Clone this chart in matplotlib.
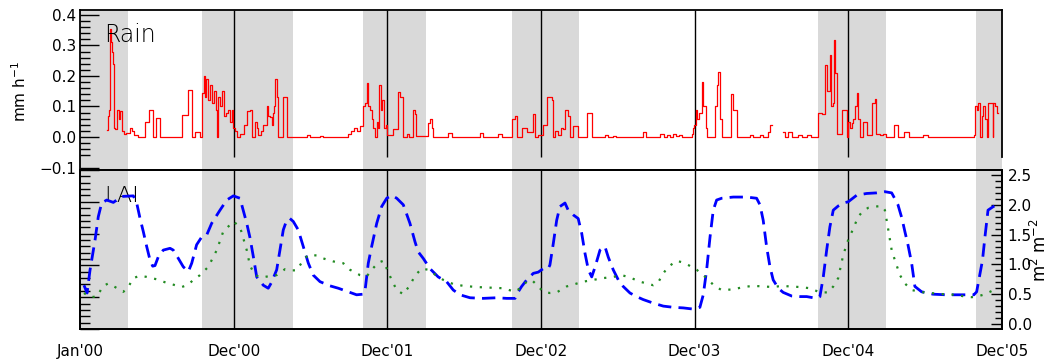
import numpy as np
import matplotlib
matplotlib.use("Agg")
import matplotlib.pyplot as plt
from matplotlib.ticker import MultipleLocator, FixedLocator

# ---- time axis (years from start of record) ----
tick_pos = [0, 1, 2, 3, 4, 5, 6]
tick_labels = ["Jan'00", "Dec'00", "Dec'01", "Dec'02", "Dec'03", "Dec'04", "Dec'05"]
season_start = [0.0, 0.794, 1.842, 2.811, 4.802, 5.831]
season_end = [0.312, 1.386, 2.252, 3.247, 5.245, 6.0]
dec_lines = [1, 2, 3, 4, 5]

# ---- rain rate (mm h-1), step series ----
rain_t = [
    0.176, 0.182, 0.189, 0.195, 0.202, 0.208, 0.215, 0.221, 0.228, 0.241,
    0.254, 0.260, 0.273, 0.286, 0.299, 0.325, 0.338, 0.351, 0.377, 0.423,
    0.449, 0.475, 0.495, 0.521, 0.664, 0.703, 0.729, 0.748, 0.781, 0.794,
    0.807, 0.813, 0.820, 0.833, 0.846, 0.859, 0.872, 0.885, 0.891, 0.898,
    0.911, 0.924, 0.937, 0.950, 0.963, 0.976, 0.989, 0.996, 1.009, 1.022,
    1.041, 1.067, 1.087, 1.106, 1.119, 1.139, 1.152, 1.158, 1.178, 1.191,
    1.217, 1.223, 1.236, 1.249, 1.256, 1.262, 1.272, 1.279, 1.288, 1.321,
    1.350, 1.477, 1.497, 1.562, 1.581, 1.744, 1.763, 1.783, 1.802, 1.822,
    1.841, 1.854, 1.866, 1.874, 1.887, 1.898, 1.907, 1.920, 1.931, 1.939,
    1.946, 1.957, 1.963, 1.978, 1.991, 1.998, 2.037, 2.069, 2.082, 2.100,
    2.126, 2.141, 2.165, 2.180, 2.186, 2.264, 2.277, 2.288, 2.297, 2.395,
    2.421, 2.603, 2.622, 2.720, 2.746, 2.811, 2.831, 2.842, 2.874, 2.907,
    2.946, 2.964, 2.980, 3.013, 3.037, 3.069, 3.080, 3.091, 3.110, 3.130,
    3.143, 3.156, 3.177, 3.188, 3.210, 3.242, 3.297, 3.330, 3.416, 3.436,
    3.468, 3.488, 3.663, 3.683, 3.774, 3.800, 3.820, 3.839, 3.859, 3.878,
    3.898, 3.917, 3.982, 3.989, 3.997, 4.008, 4.017, 4.030, 4.045, 4.056,
    4.073, 4.082, 4.132, 4.143, 4.153, 4.164, 4.176, 4.236, 4.251, 4.273,
    4.360, 4.379, 4.425, 4.444, 4.477, 4.490, 4.503, 4.572, 4.587, 4.607,
    4.631, 4.672, 4.698, 4.731, 4.757, 4.804, 4.828, 4.848, 4.859, 4.869,
    4.880, 4.887, 4.898, 4.906, 4.913, 4.924, 4.928, 4.960, 4.989, 4.999,
    5.010, 5.021, 5.032, 5.043, 5.054, 5.064, 5.075, 5.097, 5.123, 5.152,
    5.173, 5.181, 5.206, 5.225, 5.245, 5.297, 5.325, 5.362, 5.394, 5.485,
    5.518, 5.817, 5.826, 5.835, 5.846, 5.857, 5.868, 5.878, 5.889, 5.900,
    5.906, 5.939, 5.943, 5.954, 5.967, 5.975,
]
rain_mm = [
    0.023, 0.07, 0.09, 0.354, 0.31, 0.28, 0.24, 0.03, 0.025, 0.088,
    0.06, 0.085, 0.02, 0.01, 0.013, 0.03, 0.02, 0.005, 0.0, 0.05,
    0.088, 0.0, 0.062, 0.0, 0.072, 0.154, 0.0, 0.016, 0.0, 0.144,
    0.2, 0.13, 0.19, 0.12, 0.17, 0.11, 0.15, 0.09, 0.0, 0.13,
    0.1, 0.15, 0.07, 0.08, 0.09, 0.05, 0.09, 0.03, 0.02, 0.0,
    0.01, 0.04, 0.085, 0.088, 0.0, 0.05, 0.03, 0.005, 0.02, 0.04,
    0.1, 0.07, 0.065, 0.04, 0.08, 0.1, 0.19, 0.13, 0.0, 0.13,
    0.0, 0.005, 0.0, 0.004, 0.0, 0.01, 0.02, 0.03, 0.02, 0.035,
    0.1, 0.11, 0.176, 0.1, 0.09, 0.06, 0.03, 0.0, 0.05, 0.03,
    0.17, 0.09, 0.12, 0.03, 0.04, 0.005, 0.025, 0.148, 0.13, 0.0,
    0.01, 0.0, 0.09, 0.075, 0.003, 0.045, 0.06, 0.03, 0.0, 0.012,
    0.0, 0.012, 0.0, 0.01, 0.0, 0.06, 0.07, 0.0, 0.03, 0.015,
    0.075, 0.0, 0.005, 0.04, 0.13, 0.12, 0.0, 0.02, 0.005, 0.03,
    0.025, 0.09, 0.07, 0.0, 0.035, 0.0, 0.08, 0.0, 0.005, 0.0,
    0.004, 0.0, 0.015, 0.0, 0.01, 0.0, 0.008, 0.0, 0.01, 0.002,
    0.008, 0.0, 0.01, 0.03, 0.04, 0.09, 0.06, 0.08, 0.18, 0.1,
    0.03, 0.0, 0.1, 0.17, 0.214, 0.06, 0.0, 0.14, 0.09, 0.0,
    0.005, 0.0, 0.005, 0.0, 0.015, 0.04, np.nan, 0.015, 0.0, 0.015,
    0.0, 0.005, 0.0, 0.005, 0.0, 0.08, 0.075, 0.236, 0.15, 0.15,
    0.27, 0.1, 0.11, 0.318, 0.21, 0.21, 0.01, 0.09, 0.0, 0.05,
    0.03, 0.045, 0.06, 0.1, 0.145, 0.06, 0.0, 0.05, 0.005, 0.11,
    0.125, 0.01, 0.005, 0.01, 0.0, 0.04, 0.0, 0.016, 0.0, 0.005,
    0.0, 0.005, 0.1, 0.09, 0.11, 0.0, 0.07, 0.1, 0.06, 0.0,
    0.11, 0.0, 0.11, 0.1, 0.08, 0.08,
]

# ---- leaf area index (m2 m-2), dashed series ----
lai_a_t = [
    0.026, 0.046, 0.065, 0.098, 0.119, 0.141, 0.174, 0.217, 0.271, 0.347,
    0.369, 0.390, 0.412, 0.434, 0.456, 0.473, 0.488, 0.510, 0.542, 0.586,
    0.607, 0.640, 0.672, 0.705, 0.727, 0.759, 0.792, 0.824, 0.857, 0.911,
    0.955, 0.998, 1.041, 1.085, 1.106, 1.128, 1.150, 1.193, 1.225, 1.247,
    1.280, 1.301, 1.323, 1.345, 1.366, 1.388, 1.420, 1.453, 1.486, 1.518,
    1.562, 1.627, 1.681, 1.757, 1.800, 1.841, 1.854, 1.876, 1.898, 1.931,
    1.963, 1.996, 2.028, 2.061, 2.104, 2.147, 2.180, 2.201, 2.234, 2.277,
    2.331, 2.386, 2.429, 2.473, 2.538, 2.624, 2.711, 2.777, 2.831, 2.842,
    2.874, 2.907, 2.950, 2.982, 3.015, 3.047, 3.058, 3.080, 3.102, 3.123,
    3.156, 3.177, 3.210, 3.242, 3.265, 3.286, 3.308, 3.330, 3.351, 3.384,
    3.416, 3.438, 3.470, 3.503, 3.535, 3.579, 3.622, 3.665, 3.731, 3.796,
    3.861, 3.926, 3.991, 4.034, 4.056, 4.078, 4.100, 4.121, 4.143, 4.176,
    4.251, 4.338, 4.403, 4.425, 4.446, 4.468, 4.490, 4.511, 4.544, 4.576,
    4.631, 4.685, 4.729, 4.794, 4.815, 4.837, 4.859, 4.880, 4.902, 4.934,
    4.967, 4.999, 5.054, 5.119, 5.184, 5.238, 5.282, 5.303, 5.323, 5.349,
    5.368, 5.388, 5.412, 5.433, 5.477, 5.551, 5.635, 5.726, 5.817, 5.835,
    5.850, 5.873, 5.889, 5.909, 5.943, 5.967,
]
lai_a = [
    0.65, 0.52, 0.9, 1.41, 1.8, 2.03, 2.08, 2.04, 2.14, 2.15,
    2.03, 1.78, 1.55, 1.3, 1.07, 0.97, 0.98, 1.13, 1.24, 1.27,
    1.24, 1.1, 0.96, 0.88, 1.02, 1.33, 1.46, 1.49, 1.69, 1.91,
    2.08, 2.15, 2.11, 1.69, 1.45, 1.13, 0.79, 0.65, 0.6, 0.7,
    0.91, 1.24, 1.58, 1.74, 1.77, 1.72, 1.58, 1.3, 1.02, 0.82,
    0.71, 0.64, 0.6, 0.53, 0.49, 0.5, 0.54, 1.02, 1.3, 1.69,
    1.97, 2.11, 2.16, 2.11, 2.0, 1.69, 1.38, 1.21, 1.1, 0.93,
    0.79, 0.71, 0.57, 0.49, 0.44, 0.43, 0.44, 0.43, 0.43, 0.5,
    0.63, 0.74, 0.85, 0.87, 0.93, 0.93, 0.99, 1.35, 1.74, 1.97,
    2.03, 1.91, 1.83, 1.77, 1.52, 1.19, 0.91, 0.79, 0.95, 1.24,
    1.3, 1.12, 0.91, 0.74, 0.63, 0.52, 0.46, 0.41, 0.35, 0.3,
    0.28, 0.27, 0.25, 0.28, 0.49, 0.91, 1.46, 1.91, 2.08, 2.11,
    2.13, 2.13, 2.11, 2.0, 1.74, 1.3, 0.96, 0.74, 0.6, 0.53,
    0.47, 0.46, 0.46, 0.43, 0.46, 0.79, 1.24, 1.63, 1.91, 1.98,
    2.03, 2.05, 2.16, 2.19, 2.2, 2.22, 2.2, 2.1, 2.0, 1.77,
    1.55, 1.33, 1.02, 0.63, 0.54, 0.5, 0.49, 0.49, 0.49, 0.54,
    0.75, 1.07, 1.46, 1.91, 1.97, 2.0,
]

# ---- leaf area index (m2 m-2), dotted series ----
lai_b_t = [
    0.026, 0.065, 0.109, 0.152, 0.184, 0.228, 0.282, 0.314, 0.347, 0.390,
    0.434, 0.499, 0.564, 0.607, 0.662, 0.705, 0.737, 0.781, 0.835, 0.890,
    0.932, 0.998, 1.041, 1.085, 1.106, 1.139, 1.182, 1.225, 1.280, 1.334,
    1.378, 1.410, 1.453, 1.486, 1.540, 1.583, 1.648, 1.713, 1.757, 1.822,
    1.866, 1.898, 1.941, 1.974, 1.996, 2.028, 2.061, 2.104, 2.147, 2.180,
    2.223, 2.266, 2.321, 2.364, 2.429, 2.494, 2.581, 2.668, 2.754, 2.831,
    2.874, 2.907, 2.939, 2.971, 3.015, 3.058, 3.102, 3.167, 3.221, 3.275,
    3.340, 3.405, 3.470, 3.525, 3.579, 3.644, 3.731, 3.763, 3.796, 3.828,
    3.883, 3.926, 3.958, 4.013, 4.078, 4.132, 4.176, 4.251, 4.316, 4.381,
    4.446, 4.511, 4.566, 4.620, 4.685, 4.750, 4.815, 4.869, 4.902, 4.934,
    4.967, 4.999, 5.032, 5.064, 5.097, 5.130, 5.173, 5.217, 5.238, 5.260,
    5.282, 5.303, 5.336, 5.368, 5.412, 5.466, 5.531, 5.618, 5.702, 5.759,
    5.803, 5.835, 5.878, 5.922, 5.954,
]
lai_b = [
    0.52, 0.45, 0.46, 0.64, 0.68, 0.62, 0.54, 0.62, 0.77, 0.81,
    0.79, 0.75, 0.69, 0.66, 0.62, 0.66, 0.74, 0.82, 0.96, 1.24,
    1.55, 1.72, 1.63, 1.24, 0.98, 0.82, 0.78, 0.8, 0.82, 0.92,
    0.9, 0.9, 1.07, 1.16, 1.15, 1.1, 1.05, 1.02, 0.91, 0.82,
    0.8, 0.91, 1.03, 1.06, 0.93, 0.74, 0.57, 0.5, 0.65, 0.81,
    0.93, 0.91, 0.81, 0.74, 0.67, 0.64, 0.62, 0.61, 0.6, 0.54,
    0.62, 0.71, 0.74, 0.66, 0.54, 0.52, 0.53, 0.63, 0.67, 0.71,
    0.74, 0.77, 0.79, 0.82, 0.78, 0.71, 0.65, 0.7, 0.85, 0.96,
    1.06, 1.03, 0.99, 0.91, 0.77, 0.63, 0.57, 0.58, 0.62, 0.64,
    0.63, 0.62, 0.64, 0.63, 0.62, 0.6, 0.53, 0.53, 0.63, 0.77,
    1.16, 1.41, 1.6, 1.8, 1.9, 1.95, 1.97, 1.98, 1.91, 1.58,
    1.24, 1.07, 0.82, 0.68, 0.57, 0.54, 0.52, 0.5, 0.49, 0.46,
    0.45, 0.46, 0.49, 0.54, 0.58,
]

assert len(rain_t) == len(rain_mm)
assert len(lai_a_t) == len(lai_a)
assert len(lai_b_t) == len(lai_b)

SHADE = "#d9d9d9"
RAIN_YLIM = (-0.108, 0.416)
LAI_YLIM = (-0.084, 2.584)
RAIN_BOX_LOW = -0.066

plt.rcParams["font.family"] = ["DejaVu Sans"]

fig = plt.figure(figsize=(10.49, 3.6), dpi=100)
left, width = 80 / 1049, 922 / 1049
ax_r = fig.add_axes([left, 1 - 170 / 360, width, 160 / 360])
ax_b = fig.add_axes([left, 1 - 329 / 360, width, 159 / 360])
ax_l = ax_b.twinx()

for ax in (ax_r, ax_b, ax_l):
    ax.set_xlim(tick_pos[0], tick_pos[-1])
    for sp in ax.spines.values():
        sp.set_linewidth(1.3)

# growing-season shading and December markers
for s, e in zip(season_start, season_end):
    ax_r.axvspan(s, e, color=SHADE, lw=0, zorder=0)
    ax_b.axvspan(s, e, color=SHADE, lw=0, zorder=0)
for d in dec_lines:
    low = RAIN_YLIM[0] if d == 4 else RAIN_BOX_LOW
    ax_r.vlines(d, low, RAIN_YLIM[1], color="black", lw=1.0, zorder=1)
    ax_b.axvline(d, color="black", lw=1.0, zorder=1)

# ---- rain panel ----
ax_r.plot(rain_t, rain_mm, drawstyle="steps-post", color="red", lw=0.9, zorder=3)
ax_r.set_ylim(*RAIN_YLIM)
ax_r.spines["bottom"].set_visible(False)
ax_r.spines["right"].set_bounds(RAIN_BOX_LOW, RAIN_YLIM[1])
ax_r.yaxis.set_major_locator(FixedLocator([-0.1, 0.0, 0.1, 0.2, 0.3, 0.4]))
ax_r.yaxis.set_minor_locator(FixedLocator(np.round(np.arange(-0.06, 0.401, 0.02), 3)))
ax_r.tick_params(axis="x", which="both", bottom=False, labelbottom=False)
ax_r.tick_params(axis="y", which="major", left=True, right=False, direction="in",
                 length=13.5, width=1.0, labelsize=11, pad=3)
ax_r.tick_params(axis="y", which="minor", left=True, right=False, direction="in",
                 length=7, width=1.0)
ax_r.text(0.026, 0.80, "Rain", transform=ax_r.transAxes, fontsize=17,
          fontweight="light", va="baseline", ha="left", zorder=4)
fig.text(0.019, 1 - 91 / 360, "mm h$^{-1}$", rotation=90, ha="center", va="center",
         fontsize=11)

# ---- LAI panel ----
ax_b.set_ylim(0, 5)
ax_b.yaxis.set_major_locator(MultipleLocator(1))
ax_b.yaxis.set_minor_locator(MultipleLocator(0.2))
ax_b.tick_params(axis="y", which="major", left=True, direction="in", length=13.5,
                 width=1.0, labelleft=False)
ax_b.tick_params(axis="y", which="minor", left=True, direction="in", length=7,
                 width=1.0)
ax_b.set_xticks(tick_pos)
ax_b.set_xticklabels(tick_labels)
ax_b.tick_params(axis="x", length=0, pad=11, labelsize=11)

ax_l.plot(lai_a_t, lai_a, color="blue", lw=2.0, dashes=(4.8, 2.6), zorder=3)
ax_l.plot(lai_b_t, lai_b, color="#228b22", lw=1.6, dashes=(1.0, 3.4), zorder=3)
ax_l.set_ylim(*LAI_YLIM)
ax_l.yaxis.set_major_locator(MultipleLocator(0.5))
ax_l.yaxis.set_minor_locator(MultipleLocator(0.1))
ax_l.tick_params(axis="y", which="major", right=True, direction="in", length=8,
                 width=1.0, labelsize=11, pad=4)
ax_l.tick_params(axis="y", which="minor", right=True, direction="in", length=5,
                 width=1.0)
ax_b.text(0.026, 0.80, "LAI", transform=ax_b.transAxes, fontsize=16,
          fontweight="light", va="baseline", ha="left", zorder=4)
fig.text(0.991, 1 - 250 / 360, "m$^2$ m$^{-2}$", rotation=90, ha="center",
         va="center", fontsize=12)

fig.savefig("out.png", dpi=100)

# sanity check: the inward tick marks on the rain axis must be in the file
_img = plt.imread("out.png")
_col = _img[:, 88, :3].mean(axis=1)
_dark = [i for i in range(10, 170) if _col[i] < 0.5]
if len(_dark) < 10:
    raise SystemExit("tick rows at x=88: %s" % _dark)
